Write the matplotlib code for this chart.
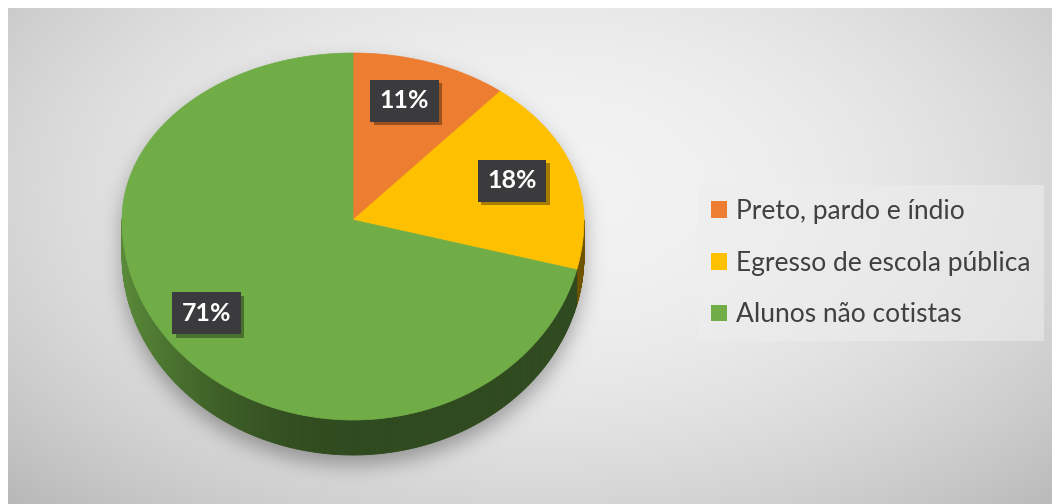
import numpy as np
import matplotlib
matplotlib.use("Agg")
import matplotlib.pyplot as plt
from matplotlib.patches import Polygon, Patch
from matplotlib.collections import PolyCollection
import matplotlib.patheffects as pe
from matplotlib.colors import to_rgb

# ---- data ----
categories = ["Preto, pardo e índio", "Egresso de escola pública", "Alunos não cotistas"]
values = [11, 18, 71]
pct_labels = ["11%", "18%", "71%"]
colors = ["#ED7D31", "#FFC000", "#70AD47"]

W, H = 1052, 504
fig = plt.figure(figsize=(W / 100, H / 100), dpi=100)
ax = fig.add_axes([0, 0, 1, 1])
ax.set_xlim(0, W)
ax.set_ylim(H, 0)
ax.axis("off")

# pie geometry (pixel space)
cx, cy = 353.0, 220.0
a, b_top, b_bot = 231.0, 167.0, 200.0
depth = 35.0


def pt(t):
    t = np.asarray(t, dtype=float)
    s = np.sin(t)
    b = np.where(s >= 0, b_top, b_bot)
    return cx + a * np.cos(t), cy - b * s


# ---- background with radial gradient + shadow ----
yy, xx = np.mgrid[0:H, 0:W] + 0.5
d2 = ((xx - 540) / 560.0) ** 2 + ((yy - 190) / 330.0) ** 2
bg = 243 - 33 * d2


def inside_top(x, y, off=0.0):
    yl = y - off
    b = np.where(yl <= cy, b_top, b_bot)
    return ((x - cx) / a) ** 2 + ((yl - cy) / b) ** 2 <= 1


sil = inside_top(xx, yy) | inside_top(xx, yy, depth) | ((np.abs(xx - cx) <= a) & (yy >= cy) & (yy <= cy + depth))
sil = sil.astype(float)
shift = 10
sil_s = np.zeros_like(sil)
sil_s[shift:, :] = sil[:-shift, :]
sig = 10.0
ky = np.fft.fftfreq(H)[:, None]
kx = np.fft.fftfreq(W)[None, :]
G = np.exp(-2 * (np.pi ** 2) * sig ** 2 * (kx ** 2 + ky ** 2))
blur = np.real(np.fft.ifft2(np.fft.fft2(sil_s) * G))
blur = np.clip(blur, 0, 1)
bg = bg * (1 - 0.32 * blur)
bg = np.clip(bg, 0, 255) / 255.0
img = np.dstack([bg, bg, bg])
img[:8, :, :] = 1.0
img[:, :8, :] = 1.0
ax.imshow(img, extent=(0, W, H, 0), origin="upper", interpolation="bilinear", zorder=0)

# ---- angles ----
fr = np.array(values, dtype=float) / np.sum(values)
starts = np.pi / 2 - 2 * np.pi * np.concatenate([[0], np.cumsum(fr)[:-1]])
ends = starts - 2 * np.pi * fr

# ---- side walls ----
quads, qcols = [], []
for i in range(len(values)):
    ts = np.linspace(starts[i], ends[i], 400)
    base = np.array(to_rgb(colors[i]))
    for t0, t1 in zip(ts[:-1], ts[1:]):
        tm = 0.5 * (t0 + t1)
        if np.sin(tm) >= 0:
            continue
        x0, y0 = pt(t0)
        x1, y1 = pt(t1)
        quads.append([(x0, y0), (x1, y1), (x1, y1 + depth), (x0, y0 + depth)])
        c = -np.cos(tm)
        f = 0.43 + 0.37 * max(0.0, c) ** 2
        qcols.append(np.clip(base * f, 0, 1))
pc = PolyCollection(quads, facecolors=qcols, edgecolors=qcols, linewidths=0.6, zorder=2)
ax.add_collection(pc)

# ---- top face ----
for i in range(len(values)):
    ts = np.linspace(starts[i], ends[i], 300)
    xs, ys = pt(ts)
    poly = np.vstack([[cx, cy], np.column_stack([xs, ys])])
    ax.add_patch(Polygon(poly, closed=True, facecolor=colors[i], edgecolor=colors[i],
                         linewidth=0.5, zorder=3, label=categories[i]))

# ---- data labels ----
for i in range(len(values)):
    tm = 0.5 * (starts[i] + ends[i])
    lx, ly = pt(tm)
    lx = cx + (lx - cx) * 0.76 - 8
    ly = cy + (ly - cy) * 0.76
    t = ax.text(lx, ly, pct_labels[i], ha="center", va="center", color="white",
                fontsize=18, fontweight="bold", family=["Lato", "DejaVu Sans"], zorder=5,
                bbox=dict(boxstyle="square,pad=0.38", facecolor="#3b3b3d", edgecolor="none"))
    t.get_bbox_patch().set_path_effects([pe.withSimplePatchShadow(offset=(2.5, -2.5), shadow_rgbFace="#000000", alpha=0.35)])

# ---- legend ----
handles = [Patch(facecolor=c, edgecolor="none", label=l) for c, l in zip(colors, categories)]
leg = fig.legend(handles=handles, loc="center left", bbox_to_anchor=(698 / W, 1 - 263 / H),
                 frameon=True, fancybox=False,
                 prop={"family": "Lato", "size": 19},
                 handlelength=0.6, handleheight=0.6, handletextpad=0.35,
                 labelspacing=1.02, borderpad=0.5, borderaxespad=0)
fr_ = leg.get_frame()
fr_.set_facecolor("#eeeeee")
fr_.set_alpha(0.55)
fr_.set_edgecolor("none")
for txt in leg.get_texts():
    txt.set_color("#404040")

fig.savefig("out.png", dpi=100)
